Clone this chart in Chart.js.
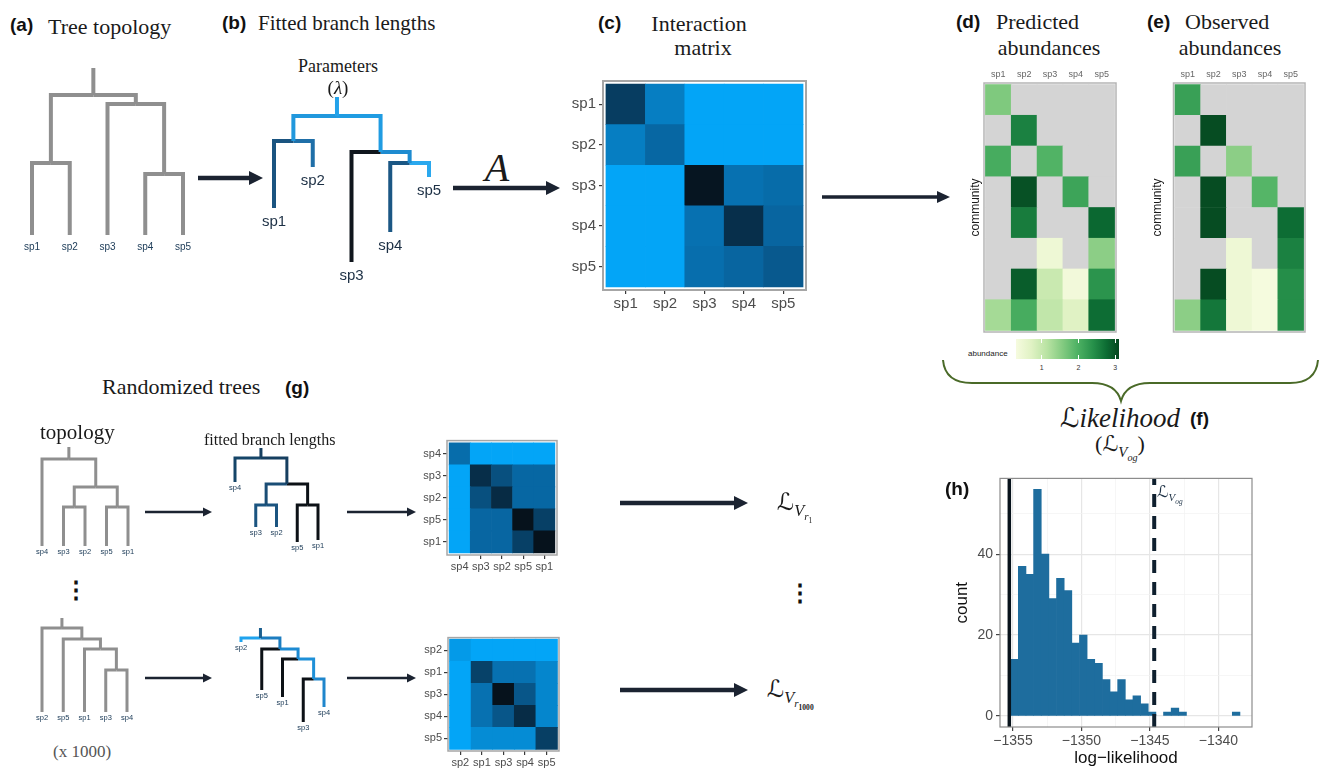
<!DOCTYPE html>
<html><head><meta charset="utf-8">
<script src="https://cdn.jsdelivr.net/npm/chart.js@4.4.1/dist/chart.umd.min.js"></script>
<style>
html,body{margin:0;padding:0;background:#fff;}
body{width:1323px;height:769px;position:relative;overflow:hidden;font-family:"Liberation Sans",Arial,sans-serif;}
canvas{position:absolute;}
.t{position:absolute;white-space:nowrap;line-height:1;transform:translate(0,-50%);color:#1a1a1a;}
.c{transform:translate(-50%,-50%);}
.lab{font-family:"Liberation Sans",Arial,sans-serif;font-weight:bold;font-size:19px;color:#111;}
.ser{font-family:"Liberation Serif","DejaVu Serif",serif;font-size:22px;color:#1a1a1a;}
.math{font-family:"Liberation Serif","DejaVu Serif",serif;font-style:italic;color:#1a1a1a;}
.L{font-family:"DejaVu Sans",sans-serif;font-style:normal;}
sub{font-size:0.68em;vertical-align:-0.38em;line-height:0;}
svg{position:absolute;left:0;top:0;}
</style></head><body>
<svg id="deco" width="1323" height="769"></svg>
<script>
// ---------------- DATA ----------------
const species = ['sp1','sp2','sp3','sp4','sp5'];

// interaction matrix (c): relative interaction strength (0 = weak, 1 = strong)
const interactionC = [
  [0.72,0.28,0,0,0],
  [0.28,0.44,0,0,0],
  [0,0,0.98,0.37,0.41],
  [0,0,0.37,0.81,0.46],
  [0,0,0.39,0.46,0.54]
];
// randomized tree 1 matrix
const order_r1 = ['sp4','sp3','sp2','sp5','sp1'];
const interactionR1 = [
  [0.40,0,0,0,0],
  [0,0.82,0.60,0.44,0.44],
  [0,0.60,0.84,0.44,0.44],
  [0,0.45,0.45,1.00,0.70],
  [0,0.45,0.45,0.70,1.00]
];
// randomized tree 1000 matrix
const order_r1000 = ['sp2','sp1','sp3','sp4','sp5'];
const interactionR1000 = [
  [0.08,0,0,0,0],
  [0,0.69,0.37,0.37,0.22],
  [0,0.37,1.00,0.56,0.22],
  [0,0.37,0.56,0.83,0.22],
  [0,0.18,0.18,0.18,0.71]
];

// abundances (0 = species absent), 8 communities
const communities = ['c1','c2','c3','c4','c5','c6','c7','c8'];
const predictedAbund = [
  [1.6,0,0,0,0],
  [0,2.55,0,0,0],
  [2.05,0,1.95,0,0],
  [0,3.0,0,2.15,0],
  [0,2.6,0,0,2.8],
  [0,0,0.45,0,1.5],
  [0,2.9,0.97,0.38,2.35],
  [1.3,2.05,1.05,0.72,2.75]
];
const observedAbund = [
  [2.2,0,0,0,0],
  [0,3.05,0,0,0],
  [2.2,0,1.5,0,0],
  [0,3.05,0,1.92,0],
  [0,3.05,0,0,2.75],
  [0,0,0.45,0,2.55],
  [0,3.05,0.45,0.32,2.42],
  [1.5,2.65,0.45,0.32,2.42]
];
const abundanceMin = 0.3, abundanceMax = 3.1;
const abundanceLegendTicks = [1,2,3];

// histogram (h)
const histBinStart = -1355.17;
const histBinWidth = 0.558;
const histCounts = [14,37,35,56,40,29,34,31,18,20,14,13,9,6,9,4,5,3,1,0,1,2,1,0,0,0,0,0,0,1];
const lowerLine = -1355.27;
const observedLogLik = -1344.69;
const histXTicks = [-1355,-1350,-1345,-1340];
const histYTicks = [0,20,40];

// trees: internal node {d: depth, c: children}, leaf {n: name, d: depth}, k = branch colour
const orderA = ['sp1','sp2','sp3','sp4','sp5'];
const treeA = {s:0,d:2.7,c:[{d:9.5,c:[{n:'sp1',d:16.7},{n:'sp2',d:16.7}]},{d:3.6,c:[{n:'sp3',d:16.7},{d:10.6,c:[{n:'sp4',d:16.7},{n:'sp5',d:16.7}]}]}]};
const treeB = {s:0,d:1.9,k:'#22a2ea',c:[
  {d:4.4,k:'#2198dd',c:[{n:'sp1',d:11.1,k:'#1a5480'},{n:'sp2',d:7.0,k:'#1f6fa8'}]},
  {d:5.5,k:'#209ce2',c:[{n:'sp3',d:16.5,k:'#10161d'},{d:6.6,k:'#1e8bd0',c:[{n:'sp4',d:13.5,k:'#1b5784'},{n:'sp5',d:8.0,k:'#2aa8ee'}]}]}]};
const orderG1 = ['sp4','sp3','sp2','sp5','sp1'];
const treeG1 = {s:0,d:1.2,c:[{n:'sp4',d:9.9},{d:4.0,c:[{d:6.0,c:[{n:'sp3',d:9.9},{n:'sp2',d:9.9}]},{d:6.0,c:[{n:'sp5',d:9.9},{n:'sp1',d:9.9}]}]}]};
const treeG2 = {s:0,d:1.0,k:'#163f60',c:[{n:'sp4',d:3.4,k:'#154568'},{d:3.6,k:'#163f60',c:[
  {d:5.7,k:'#1a4d75',c:[{n:'sp3',d:7.9,k:'#1b5480'},{n:'sp2',d:7.9,k:'#1b5480'}]},
  {d:5.7,k:'#0c1116',c:[{n:'sp5',d:9.4,k:'#0c1116'},{n:'sp1',d:9.2,k:'#0c1116'}]}]}]};
const orderG3 = ['sp2','sp5','sp1','sp3','sp4'];
const treeG3 = {s:0,d:1.0,c:[{n:'sp2',d:9.4},{d:2.1,c:[{n:'sp5',d:9.4},{d:3.1,c:[{n:'sp1',d:9.4},{d:5.2,c:[{n:'sp3',d:9.4},{n:'sp4',d:9.4}]}]}]}]};
const treeG4 = {s:0,d:1.0,k:'#1b5f8f',c:[{n:'sp2',d:1.4,k:'#1fa3ee'},{d:2.1,k:'#1c7dc0',c:[{n:'sp5',d:6.2,k:'#0c1116'},{d:3.1,k:'#1d8ad2',c:[{n:'sp1',d:6.9,k:'#0c1116'},{d:5.1,k:'#1e90d8',c:[{n:'sp3',d:9.4,k:'#0c1116'},{n:'sp4',d:7.9,k:'#1f86cc'}]}]}]}]};

// ---------------- HELPERS ----------------
const blueStops = [[0,[3,165,247]],[0.5,[8,95,152]],[1,[6,18,28]]];
const greenStops = [[0,'#f6fbdf'],[0.15,'#e0f2c4'],[0.3,'#b9e3a3'],[0.45,'#84cb81'],[0.6,'#4db163'],[0.75,'#26904a'],[0.88,'#0c6c33'],[1,'#05461f']];
function hex2rgb(h){return [parseInt(h.substr(1,2),16),parseInt(h.substr(3,2),16),parseInt(h.substr(5,2),16)];}
function interp(stops,t){
  t=Math.max(0,Math.min(1,t));
  for(let i=1;i<stops.length;i++){
    if(t<=stops[i][0]){
      const a=stops[i-1],b=stops[i];
      const ca=Array.isArray(a[1])?a[1]:hex2rgb(a[1]), cb=Array.isArray(b[1])?b[1]:hex2rgb(b[1]);
      const f=(t-a[0])/(b[0]-a[0]);
      return 'rgb('+ca.map((v,j)=>Math.round(v+(cb[j]-v)*f)).join(',')+')';
    }
  }
}
const blueColor = v => interp(blueStops, v);
const greenColor = v => v<=0 ? '#d4d4d4' : interp(greenStops,(v-abundanceMin)/(abundanceMax-abundanceMin));

const framePlugin = {
  id:'frame',
  afterDraw(chart,args,opts){
    if(!opts || !opts.color) return;
    const {ctx, chartArea:a} = chart;
    ctx.save(); ctx.strokeStyle=opts.color; ctx.lineWidth=opts.width||1;
    ctx.strokeRect(a.left,a.top,a.right-a.left,a.bottom-a.top);
    ctx.restore();
  }
};
const labelStore = {};
const leafPlugin = {
  id:'leafLabels',
  afterDatasetsDraw(chart){
    const L = labelStore[chart.canvas.id]; if(!L) return;
    const {ctx, scales:{x,y}} = chart;
    ctx.save(); ctx.font=L.font; ctx.fillStyle=L.color; ctx.textAlign='center'; ctx.textBaseline='top';
    L.tips.forEach(t=>ctx.fillText(t.name, x.getPixelForValue(t.x), y.getPixelForValue(t.y)+L.gap));
    ctx.restore();
  }
};
Chart.register(framePlugin, leafPlugin);

function makeCanvas(id,left,top,w,h){
  const c=document.createElement('canvas'); c.id=id; c.width=Math.round(w); c.height=Math.round(h);
  c.style.left=left+'px'; c.style.top=top+'px'; c.style.width=Math.round(w)+'px'; c.style.height=Math.round(h)+'px';
  document.body.appendChild(c); return c;
}
const baseOpts = {responsive:false, animation:false, events:[], devicePixelRatio:1};

function treeChart(id, tree, order, box, style){
  const segs=[], tips=[];
  const xOf = n => n.c ? n.c.map(xOf).reduce((a,b)=>a+b,0)/n.c.length : order.indexOf(n.n);
  const walk = (n,px,py) => {
    const x=xOf(n);
    segs.push({col:n.k||style.color, pts:[{x:px,y:py},{x:x,y:py},{x:x,y:n.d}]});
    if(n.c) n.c.forEach(ch=>walk(ch,x,n.d)); else tips.push({name:n.n,x:x,y:n.d});
  };
  const rx=xOf(tree);
  segs.push({col:tree.k||style.color, pts:[{x:rx,y:tree.s},{x:rx,y:tree.d}]});
  tree.c.forEach(ch=>walk(ch,rx,tree.d));
  const cv=makeCanvas(id,box.left,box.top,box.w,box.h);
  labelStore[id]={tips, font:style.font, color:style.labelColor, gap:style.gap};
  new Chart(cv,{type:'scatter',
    data:{datasets:segs.map(s=>({data:s.pts, showLine:true, borderColor:s.col, borderWidth:style.lw, pointRadius:0,
      borderJoinStyle:'miter', borderCapStyle:'butt', tension:0, fill:false}))},
    options:Object.assign({},baseOpts,{layout:{padding:0},
      plugins:{legend:{display:false},tooltip:{enabled:false}},
      scales:{x:{type:'linear',display:false,min:(box.left-box.x0)/box.dx,max:(box.left+box.w-box.x0)/box.dx},
              y:{type:'linear',display:false,reverse:true,min:(box.top-box.y0)/box.dy,max:(box.top+box.h-box.y0)/box.dy}}})
  });
}

function heatChart(id, frame, rows, cols, mat, colorFn, o){
  const nR=rows.length, nC=cols.length;
  const left=frame.left-o.yw, width=o.yw+frame.w+o.pad;
  const top=o.xTop? frame.top-o.xh : frame.top-o.pad;
  const height=o.xh+frame.h+o.pad;
  const cv=makeCanvas(id,left,top,width,height);
  const datasets=[];
  for(let k=0;k<nR;k++){
    const r=nR-1-k;
    datasets.push({data:cols.map((c,j)=>({x:j+0.5,y:1})), backgroundColor:mat[r].map(colorFn),
      borderWidth:0, barPercentage:1, categoryPercentage:1});
  }
  const font={family:'"Liberation Sans", Arial, sans-serif', size:o.fs};
  new Chart(cv,{type:'bar',data:{datasets},
    options:Object.assign({},baseOpts,{
      layout:{padding:o.xTop?{top:0,right:o.pad,bottom:o.pad,left:0}:{top:o.pad,right:o.pad,bottom:0,left:0}},
      plugins:{legend:{display:false},tooltip:{enabled:false},frame:{color:o.frameColor,width:o.frameW}},
      scales:{
        x:{type:'linear',stacked:true,position:o.xTop?'top':'bottom',min:-o.ex,max:nC+o.ex,offset:false,
          afterBuildTicks:s=>{s.ticks=cols.map((c,j)=>({value:j+0.5}));},
          afterFit:s=>{s.height=o.xh;},
          ticks:{callback:v=>cols[Math.floor(v)],font,color:o.tc,padding:o.tp,maxRotation:0,minRotation:0,autoSkip:false},
          grid:{display:o.tickLen>0,offset:false,drawOnChartArea:false,drawTicks:true,tickLength:o.tickLen,tickColor:'#3a3a3a',lineWidth:1.2},
          border:{display:false}},
        y:{type:'linear',stacked:true,min:-o.ey,max:nR+o.ey,
          afterBuildTicks:s=>{s.ticks=rows.map((r,k)=>({value:k+0.5}));},
          afterFit:s=>{s.width=o.yw;},
          ticks:{display:o.showY,callback:v=>rows[nR-1-Math.floor(v)],font,color:o.tc,padding:o.typ!==undefined?o.typ:o.tp,autoSkip:false},
          grid:{display:o.tickLen>0&&o.showY,offset:false,drawOnChartArea:false,drawTicks:true,tickLength:o.tickLen,tickColor:'#3a3a3a',lineWidth:1.2},
          border:{display:false},
          title:{display:!!o.yTitle,text:o.yTitle||'',font:{family:'"Liberation Sans", Arial, sans-serif',size:12},color:'#1a1a1a'}}
      }})
  });
}

// ---------------- TREES ----------------
const grayTree = '#8f8f8f';
treeChart('treeA',treeA,orderA,{left:8,top:58,w:200,h:200,x0:32,dx:37.75,y0:68,dy:10},
  {color:grayTree,lw:4,font:'10px "Liberation Sans", Arial',labelColor:'#22405c',gap:7});
treeChart('treeB',treeB,orderA,{left:250,top:90,w:200,h:200,x0:274,dx:38.75,y0:97,dy:10},
  {color:grayTree,lw:4,font:'15px "Liberation Sans", Arial',labelColor:'#1d3045',gap:6});
treeChart('treeG1',treeG1,orderG1,{left:25,top:440,w:125,h:120,x0:42,dx:21.5,y0:447,dy:10},
  {color:grayTree,lw:3,font:'7.5px "Liberation Sans", Arial',labelColor:'#22405c',gap:2});
treeChart('treeG2',treeG2,orderG1,{left:220,top:440,w:115,h:120,x0:235,dx:20.75,y0:448,dy:10},
  {color:grayTree,lw:3,font:'7.5px "Liberation Sans", Arial',labelColor:'#22405c',gap:2});
treeChart('treeG3',treeG3,orderG3,{left:25,top:610,w:125,h:120,x0:42,dx:21.25,y0:618,dy:10},
  {color:grayTree,lw:3,font:'7.5px "Liberation Sans", Arial',labelColor:'#22405c',gap:2});
treeChart('treeG4',treeG4,orderG3,{left:225,top:620,w:115,h:120,x0:241,dx:20.75,y0:628,dy:10},
  {color:grayTree,lw:3,font:'7.5px "Liberation Sans", Arial',labelColor:'#22405c',gap:2});

// ---------------- HEATMAPS ----------------
heatChart('heatC',{left:603,top:75,w:203,h:215},species,species,interactionC,blueColor,
  {yw:48,xh:28,pad:6,fs:15,tc:'#4d4d4d',tp:1,typ:3,tickLen:4,showY:true,ex:0.075,ey:0.075,frameColor:'#a6a6a6',frameW:2});
heatChart('heatR1',{left:447,top:437,w:110,h:118},order_r1,order_r1,interactionR1,blueColor,
  {yw:36,xh:20,pad:5,fs:11,tc:'#4d4d4d',tp:1,typ:2,tickLen:4,showY:true,ex:0.1,ey:0.1,frameColor:'#a6a6a6',frameW:1.5});
heatChart('heatR1000',{left:447.5,top:634,w:110.5,h:117},order_r1000,order_r1000,interactionR1000,blueColor,
  {yw:36,xh:18,pad:5,fs:11,tc:'#4d4d4d',tp:1,typ:2,tickLen:4,showY:true,ex:0.07,ey:0.07,frameColor:'#a6a6a6',frameW:1.5});
heatChart('heatD',{left:984,top:82.5,w:132,h:248.5},communities,species,predictedAbund,greenColor,
  {yw:20,xh:14,pad:4,fs:9,tc:'#666',tp:3,tickLen:0,showY:false,yTitle:'community',ex:0.055,ey:0.05,frameColor:'#b5b5b5',frameW:1.5,xTop:true});
heatChart('heatE',{left:1173,top:83,w:131,h:248.5},communities,species,observedAbund,greenColor,
  {yw:27.5,xh:14,pad:4,fs:9,tc:'#666',tp:3,tickLen:0,showY:false,yTitle:'community',ex:0.055,ey:0.05,frameColor:'#b5b5b5',frameW:1.5,xTop:true});

// ---------------- HISTOGRAM ----------------
(function(){
  const cv=makeCanvas('hist',948,467,314,302);
  const majorX=v=>histXTicks.includes(v), majorY=v=>histYTicks.includes(v);
  const font={family:'"Liberation Sans", Arial, sans-serif',size:14};
  new Chart(cv,{type:'bar',data:{datasets:[
    {type:'bar',data:histCounts.map((n,i)=>({x:histBinStart+histBinWidth*(i+0.5),y:n>0?n:null})),backgroundColor:'#1e6d9e',
     borderWidth:0,barPercentage:1,categoryPercentage:1,order:2},
    {type:'line',data:[{x:lowerLine,y:-10},{x:lowerLine,y:70}],borderColor:'#08131c',borderWidth:3.5,pointRadius:0,order:1},
    {type:'line',data:[{x:observedLogLik,y:-2.7},{x:observedLogLik,y:70}],borderColor:'#0e1f2e',borderWidth:4,borderDash:[13,9],pointRadius:0,order:1}
  ]},
  options:Object.assign({},baseOpts,{
    layout:{padding:{top:10,right:10,bottom:0,left:0}},
    plugins:{legend:{display:false},tooltip:{enabled:false},frame:{color:'#8c8c8c',width:1.2}},
    scales:{
      x:{type:'linear',min:-1355.95,max:-1337.55,offset:false,
        afterBuildTicks:s=>{s.ticks=[-1355,-1352.5,-1350,-1347.5,-1345,-1342.5,-1340].map(v=>({value:v}));},
        afterFit:s=>{s.height=42;},
        ticks:{callback:v=>majorX(v)?'\u2212'+Math.abs(v):'',font,color:'#4d4d4d',padding:2,maxRotation:0,autoSkip:false},
        grid:{offset:false,color:c=>c.tick&&majorX(c.tick.value)?'#e6e6e6':'#f2f2f2',lineWidth:c=>c.tick&&majorX(c.tick.value)?1.2:0.7,
          tickColor:c=>c.tick&&majorX(c.tick.value)?'#444':'rgba(0,0,0,0)',tickLength:4},
        border:{display:false},
        title:{display:true,text:'log\u2212likelihood',font:{family:'"Liberation Sans", Arial, sans-serif',size:17},color:'#111',padding:{top:0,bottom:0}}},
      y:{type:'linear',min:-2.7,max:58.7,
        afterBuildTicks:s=>{s.ticks=[0,10,20,30,40,50].map(v=>({value:v}));},
        afterFit:s=>{s.width=52;},
        ticks:{callback:v=>majorY(v)?String(v):'',font,color:'#4d4d4d',padding:3,autoSkip:false},
        grid:{color:c=>c.tick&&majorY(c.tick.value)?'#e6e6e6':'#f2f2f2',lineWidth:c=>c.tick&&majorY(c.tick.value)?1.2:0.7,
          tickColor:c=>c.tick&&majorY(c.tick.value)?'#444':'rgba(0,0,0,0)',tickLength:4},
        border:{display:false},
        title:{display:true,text:'count',font:{family:'"Liberation Sans", Arial, sans-serif',size:17},color:'#111',padding:{top:4,bottom:2}}}
    }})
  });
})();

// ---------------- TEXT ----------------
function T(html,x,y,cls,style,center){
  const d=document.createElement('div'); d.className='t '+(cls||'')+(center?' c':'');
  d.innerHTML=html; d.style.left=x+'px'; d.style.top=y+'px';
  if(style) d.setAttribute('style',d.getAttribute('style')+';'+style);
  document.body.appendChild(d); return d;
}
const Lsym = '<span class="L">ℒ</span>';
T('(a)',10,24,'lab'); T('Tree topology',48,27,'ser');
T('(b)',222,22,'lab'); T('Fitted branch lengths',258,23,'ser','font-size:21px');
T('Parameters',338,66,'ser','font-size:18px',true); T('(<i>λ</i>)',338,87,'ser','font-size:19px',true);
T('<i>A</i>',497,168,'math','font-size:40px',true);
T('(c)',598,22,'lab'); T('Interaction',699,24,'ser','',true); T('matrix',703,48,'ser','',true);
T('(d)',956,21,'lab'); T('Predicted',996,22,'ser'); T('abundances',1049,48,'ser','',true);
T('(e)',1147,21,'lab'); T('Observed',1185,22,'ser'); T('abundances',1230,48,'ser','',true);
T('abundance',968,354,'', 'font-size:8px;color:#222');
T('Randomized trees',102,387,'ser'); T('(g)',285,387,'lab');
T('topology',40,432,'ser','font-size:21px'); T('fitted branch lengths',204,440,'ser','font-size:16px');
T('(x 1000)',53,751,'ser','font-size:17px;color:#555');
T('⋮',76,590,'','font-size:24px;color:#111;font-weight:bold',true);
T('⋮',800,593,'','font-size:24px;color:#111;font-weight:bold',true);
T(Lsym+'<i>ikelihood</i>',1120,418,'math','font-size:27px',true); T('(f)',1190,418,'lab');
T('('+Lsym+'<sub><i>V</i><sub><i>og</i></sub></sub>)',1120,445,'math','font-size:22px;font-style:normal',true);
T('(h)',945,488,'lab');
T(Lsym+'<sub><i>V</i><sub><i>r</i><sub>1</sub></sub></sub>',777,506,'math','font-size:24px;font-style:normal');
T(Lsym+'<sub><i>V</i><sub><i>r</i><sub><b>1000</b></sub></sub></sub>',767,693,'math','font-size:24px;font-style:normal');
T(Lsym+'<sub><i>V</i><sub><i>og</i></sub></sub>',1157,493,'math','font-size:16px;font-style:normal;color:#1f3347');

// colour bar legend for abundance
(function(){
  const L=1016,Tp=339,W=103,H=20;
  const bar=document.createElement('div');
  bar.style.cssText='position:absolute;left:'+L+'px;top:'+Tp+'px;width:'+W+'px;height:'+H+'px;background:linear-gradient(to right,'+
    greenStops.map(s=>s[1]+' '+(s[0]*100)+'%').join(',')+')';
  document.body.appendChild(bar);
  abundanceLegendTicks.forEach(v=>{
    const x=L+(v-abundanceMin)/(abundanceMax-abundanceMin)*W;
    ['top:'+Tp+'px','top:'+(Tp+H-4)+'px'].forEach(p=>{
      const tk=document.createElement('div');
      tk.style.cssText='position:absolute;left:'+(x-0.5)+'px;'+p+';width:1px;height:4px;background:#fff';
      document.body.appendChild(tk);
    });
    T(String(v),x,367,'','font-size:7px;color:#333',true);
  });
})();

// ---------------- ARROWS & BRACE ----------------
(function(){
  const svg=document.getElementById('deco'); const NS='http://www.w3.org/2000/svg';
  function arrow(x1,y,x2,w,hl,hw){
    const l=document.createElementNS(NS,'line');
    l.setAttribute('x1',x1);l.setAttribute('y1',y);l.setAttribute('x2',x2-hl+1);l.setAttribute('y2',y);
    l.setAttribute('stroke','#1b2331');l.setAttribute('stroke-width',w);svg.appendChild(l);
    const p=document.createElementNS(NS,'polygon');
    p.setAttribute('points',(x2-hl)+','+(y-hw/2)+' '+x2+','+y+' '+(x2-hl)+','+(y+hw/2));
    p.setAttribute('fill','#1b2331');svg.appendChild(p);
  }
  arrow(198,178,263,4.5,14,14);
  arrow(453,188,560,4.5,14,14);
  arrow(822,197,950,3.5,13,12);
  arrow(145,512,212,2.5,9,9);
  arrow(347,512,416,2.5,9,9);
  arrow(145,678,212,2.5,9,9);
  arrow(347,678,416,2.5,9,9);
  arrow(620,503,748,4.5,14,14);
  arrow(620,690,748,4.5,14,14);
  const b=document.createElementNS(NS,'path');
  b.setAttribute('d','M 943 360 Q 945 383 972 383 L 1092 383 Q 1116 383 1121 401 Q 1126 383 1150 383 L 1290 383 Q 1316 383 1318 360');
  b.setAttribute('fill','none');b.setAttribute('stroke','#4a6a28');b.setAttribute('stroke-width','2');
  svg.appendChild(b);
})();
</script>
</body></html>
